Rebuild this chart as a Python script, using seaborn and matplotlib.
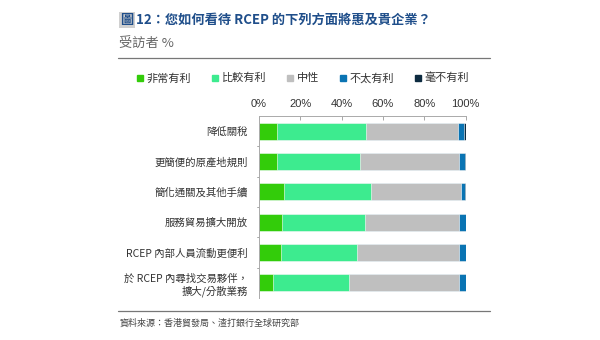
import matplotlib
matplotlib.use("Agg")
import matplotlib.pyplot as plt
import seaborn as sns
import pandas as pd
import numpy as np
from matplotlib.lines import Line2D

sns.set_theme(style="white")
plt.rcParams['font.family'] = ['Noto Sans CJK TC', 'DejaVu Sans']

categories = ["降低關稅", "更簡便的原產地規則", "簡化通關及其他手續", "服務貿易擴大開放",
              "RCEP 內部人員流動更便利", "於 RCEP 內尋找交易夥伴，\n擴大/分散業務"]
series_names = ["非常有利", "比較有利", "中性", "不太有利", "毫不有利"]
very_fav = [8.7, 8.8, 12.3, 11.1, 10.8, 6.9]
fav = [43.1, 40.1, 42.1, 40.4, 36.5, 36.5]
neutral = [44.4, 47.8, 43.4, 45.5, 49.6, 53.6]
unfav = [3.1, 3.1, 1.8, 3.0, 3.1, 3.0]
very_unfav = [0.7, 0.2, 0.4, 0.0, 0.0, 0.0]
xticks = [0, 20, 40, 60, 80, 100]
xtick_labels = ["0%", "20%", "40%", "60%", "80%", "100%"]

colors = ["#33cc0a", "#3deb8f", "#bfbfbf", "#0a74b3", "#0d2b40"]

series = [very_fav, fav, neutral, unfav, very_unfav]
cum = np.cumsum(np.array(series), axis=0)

fig = plt.figure(figsize=(6, 3.4), dpi=100)
ax = fig.add_axes([259/600, 1-298/340, 206.5/600, 182/340])

# draw stacked bars from the largest cumulative to the smallest
for i in range(len(series) - 1, -1, -1):
    df = pd.DataFrame({"cat": categories, "val": cum[i]})
    sns.barplot(data=df, x="val", y="cat", orient="h", color=colors[i],
                saturation=1, width=0.55, edgecolor="white", linewidth=0.4, ax=ax)

ax.set_xlim(0, 100)
ax.set_ylim(len(categories) - 0.5, -0.5)
ax.set_xlabel("")
ax.set_ylabel("")
ax.xaxis.tick_top()
ax.set_xticks(xticks)
ax.set_xticklabels(xtick_labels, fontsize=8, color="#333333", family="Liberation Sans")
ax.tick_params(axis="x", length=3, width=0.6, color="#999999", pad=5, top=True, bottom=False, direction="in")
ax.set_yticks(range(len(categories)))
ax.set_yticklabels(categories, fontsize=7.5, color="#333333")
ax.tick_params(axis="y", length=0, pad=8)
# boundary ticks on y axis
for b in np.arange(0.5, len(categories) - 0.5, 1.0):
    ax.plot([-0.012, 0], [b, b], transform=ax.get_yaxis_transform(), color="#999999",
            lw=0.6, clip_on=False)
for s in ["right", "bottom"]:
    ax.spines[s].set_visible(False)
for s in ["top", "left"]:
    ax.spines[s].set_color("#aaaaaa")
    ax.spines[s].set_linewidth(0.7)

# legend
handles = [Line2D([0], [0], marker="s", color="none", markerfacecolor=c, markeredgecolor=c,
                  markersize=4.5, label=n) for c, n in zip(colors, series_names)]
fig.legend(handles=handles, loc="center", bbox_to_anchor=(0.505, 1-78/340), ncol=5,
           frameon=False, fontsize=8, handlelength=0.6, handletextpad=0.3,
           columnspacing=1.85, labelcolor="#333333")

# title
fig.text(120/600, 1-20/340, "圖", fontsize=9.5, fontweight="bold", color="#1f4e8a",
         va="center", ha="left",
         bbox=dict(boxstyle="square,pad=0.1", facecolor="#d0d0d0", edgecolor="none"))
fig.text(136/600, 1-20/340, "12：您如何看待 RCEP 的下列方面將惠及貴企業？", fontsize=9.5,
         fontweight="bold", color="#1f4e8a", va="center", ha="left")
fig.text(119/600, 1-44/340, "受訪者 %", fontsize=9.5, style="italic", color="#666666",
         va="center", ha="left")
fig.add_artist(Line2D([118/600, 490/600], [1-58/340, 1-58/340], color="#777777", lw=0.9))
fig.add_artist(Line2D([118/600, 490/600], [1-311/340, 1-311/340], color="#777777", lw=0.9))
fig.text(120/600, 1-323/340, "資料來源：香港貿發局、渣打銀行全球研究部", fontsize=6.5,
         color="#444444", va="center", ha="left")

fig.savefig("out.png", dpi=100, facecolor="white")
